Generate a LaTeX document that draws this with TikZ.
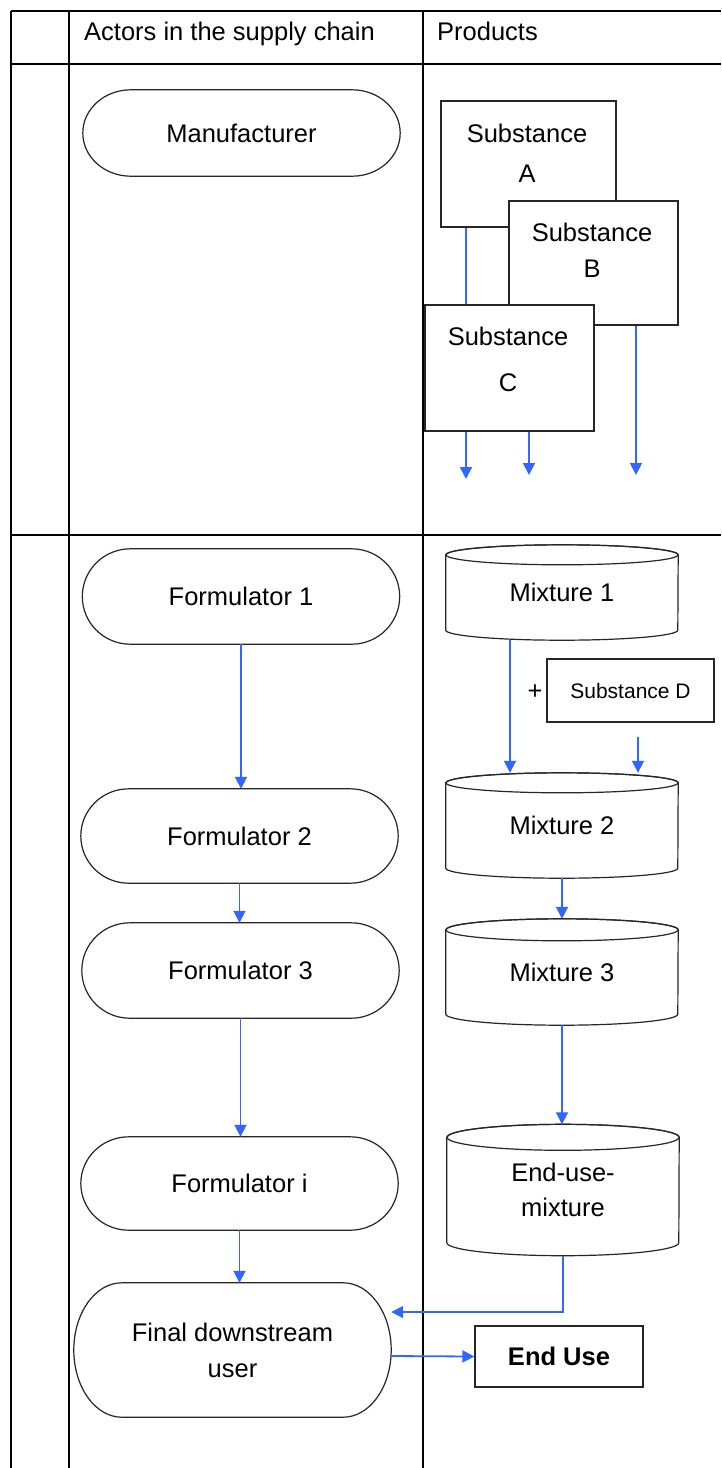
\documentclass[tikz,border=0pt]{standalone}
\usepackage{fontspec}
\setmainfont{Liberation Sans}
\usetikzlibrary{arrows.meta,calc}
\definecolor{arrblue}{HTML}{3366FF}
\newcommand\mainfs{\fontsize{25.5}{30}\selectfont}
\newcommand\capsuledraw[1]{%
  \draw[shapeline] let \p1=(#1.north west), \p2=(#1.south east), \n1={(\y1-\y2)/2} in
    (\x1+48pt,\y1) -- (\x2-48pt,\y1)
    arc[start angle=90,end angle=-90,x radius=48pt,y radius=\n1]
    -- (\x1+48pt,\y2)
    arc[start angle=270,end angle=90,x radius=48pt,y radius=\n1] -- cycle;}
\newcommand\cyldraw[2]{%
  \draw[shapeline] ($(#1.north west)+(0,-#2)$) -- ($(#1.south west)+(0,#2)$)
    arc[start angle=180,end angle=360,x radius=116pt,y radius=#2pt]
    -- ($(#1.north east)+(0,-#2)$)
    arc[start angle=0,end angle=180,x radius=116pt,y radius=#2pt] -- cycle;
  \draw[shapeline] ($(#1.north)+(0,-#2)$) ellipse[x radius=116pt,y radius=#2pt];}
\begin{document}
\begin{tikzpicture}[x=1pt,y=1pt,
  tab/.style={line width=1.4pt,black},
  shapeline/.style={line width=1.2pt,black!85},
  arr/.style={line width=1.8pt,arrblue,-{Triangle[width=12pt,length=12pt]}},
  capsule/.style={rectangle,draw=none,inner sep=0pt,minimum width=317pt,align=center,font=\mainfs},
  box/.style={rectangle,draw=black!85,line width=1.2pt,fill=white,inner sep=0pt},
  cylnode/.style={rectangle,draw=none,inner sep=0pt,minimum width=232pt,align=center,font=\mainfs},
  txt/.style={inner sep=0pt,align=center,font=\mainfs}]
\useasboundingbox[fill=white] (0,0) rectangle (721,-1468);

% table
\draw[tab] (11,-11) -- (721,-11);
\draw[tab] (11,-64) -- (721,-64);
\draw[tab] (11,-535) -- (721,-535);
\draw[tab] (11,-11) -- (11,-1468);
\draw[tab] (69,-11) -- (69,-1468);
\draw[tab] (423,-11) -- (423,-1468);

\node[txt,anchor=base west] (hActors) at (84,-40) {Actors in the supply chain};
\node[txt,anchor=base west] (hProducts) at (437,-40) {Products};

% actors
\node[capsule,minimum height=86pt] (man) at (241.5,-133) {Manufacturer};
\node[capsule,minimum height=95pt] (f1) at (241,-596.5) {Formulator 1};
\node[capsule,minimum height=94pt] (f2) at (239.5,-836) {Formulator 2};
\node[capsule,minimum height=95pt] (f3) at (240.5,-970.5) {Formulator 3};
\node[capsule,minimum height=93pt] (fi) at (239.5,-1183.5) {Formulator i};
\node[capsule,minimum height=134pt,font=\fontsize{25.5}{36}\selectfont] (fin) at (232.5,-1350) {Final downstream\\user};
\foreach \k in {man,f1,f2,f3,fi,fin} {\capsuledraw{\k}}

\draw[arr] (f1.south) -- (f1.south |- f2.north);
\draw[arr] (f2.south) -- (f2.south |- f3.north);
\draw[arr] (f3.south) -- (f3.south |- fi.north);
\draw[arr] (fi.south) -- (fi.south |- fin.north);

% substances
\node[box,minimum width=175pt,minimum height=126pt] (sA) at (528.5,-164) {};
\node[txt] (tA) at (527,-153) {Substance\\[10pt]A};
\node[box,minimum width=169pt,minimum height=124pt] (sB) at (593.5,-263) {};
\node[txt] (tB) at (592,-250) {Substance\\[6pt]B};
\coordinate (endA) at (466,-479);
\draw[arr] (sA.south -| endA) -- (endA);
\node[box,minimum width=169pt,minimum height=126pt] (sC) at (509.5,-368) {};
\node[txt] (tC) at (508,-359) {Substance\\[16pt]C};
\coordinate (endC) at (529,-475);
\draw[arr] (sC.south -| endC) -- (endC);
\coordinate (endB) at (636,-475);
\draw[arr] (sB.south -| endB) -- (endB);

% mixtures
\node[cylnode,minimum height=95pt] (m1) at (562,-592.5) {Mixture 1};
\node[cylnode,minimum height=105pt] (m2) at (562,-825.5) {Mixture 2};
\node[cylnode,minimum height=106pt] (m3) at (562,-972) {Mixture 3};
\node[cylnode,minimum height=131pt,font=\fontsize{25.5}{35}\selectfont] (eu) at (563,-1190) {End-use-\\mixture};
\cyldraw{m1}{10}
\cyldraw{m2}{10}
\cyldraw{m3}{11}
\cyldraw{eu}{13}

\node[box,minimum width=167pt,minimum height=63pt,font=\fontsize{21}{25}\selectfont] (sD) at (630.5,-690.5) {Substance D};
\node[txt] (plus) at (535,-692) {+};
\coordinate (dstart) at (638,-737);
\draw[arr] (dstart) -- (dstart |- m2.north);
\draw[arr] ([xshift=-52pt]m1.south) -- ([xshift=-52pt]m1.south |- m2.north);
\draw[arr] (m2.south) -- (m2.south |- m3.north);
\draw[arr] (m3.south) -- (m3.south |- eu.north);

% end use
\node[box,minimum width=168pt,minimum height=61pt,font=\bfseries\fontsize{25.5}{30}\selectfont] (use) at (559,-1356.5) {End Use};
\draw[arr] (eu.south) |- ([yshift=38pt]fin.east);
\draw[arr] ([yshift=-6pt]fin.east) -- (use.west);
\end{tikzpicture}
\end{document}
